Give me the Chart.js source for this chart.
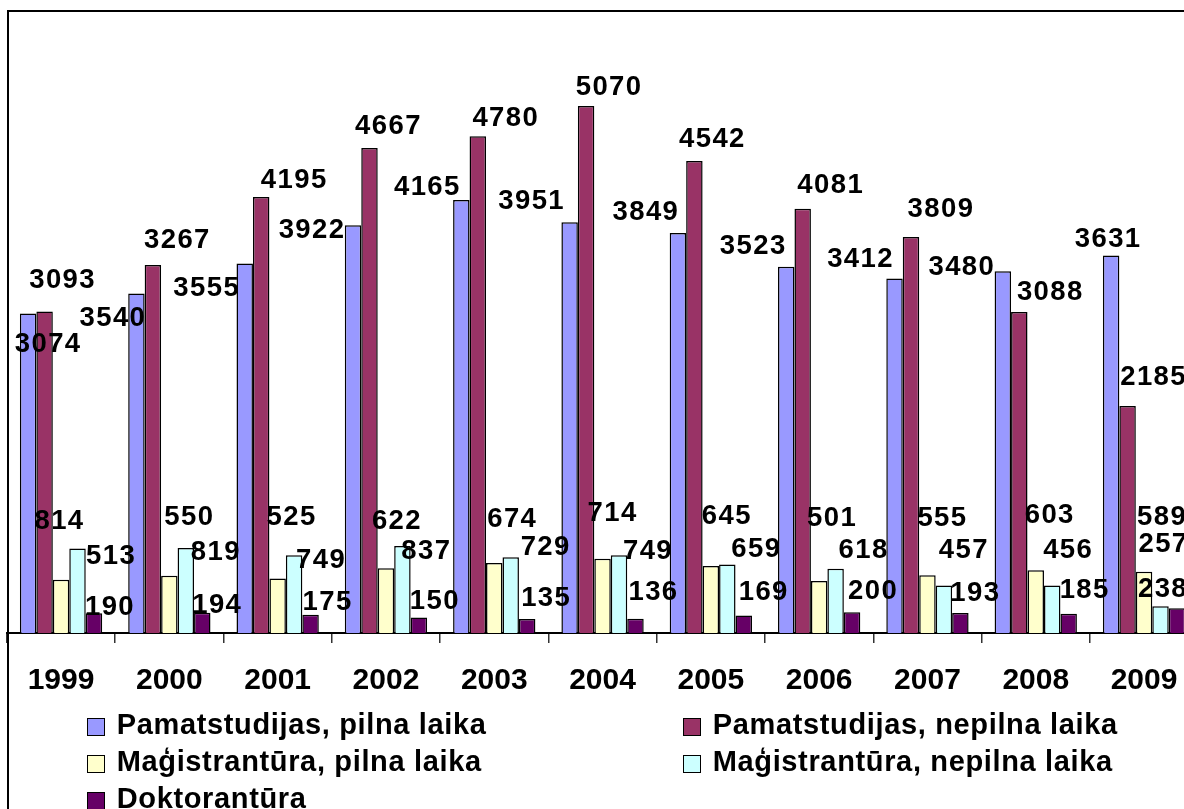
<!DOCTYPE html>
<html>
<head>
<meta charset="utf-8">
<script src="https://cdn.jsdelivr.net/npm/chart.js@4/dist/chart.umd.min.js"></script>
<style>
  html, body { margin: 0; padding: 0; width: 1184px; height: 809px; overflow: hidden; background: #fff; }
  #wrap { position: relative; width: 1184px; height: 809px; overflow: hidden; }
  #c { position: absolute; left: 0; top: 0; }
  #frame { position: absolute; left: 7px; top: 10px; width: 3000px; height: 3000px;
           border-left: 2px solid #000; border-top: 2px solid #000; pointer-events: none; }
  #legend { position: absolute; left: 0; top: 0; width: 1184px; height: 809px; pointer-events: none; }
  .li { position: absolute; height: 37px; white-space: nowrap; }
  .sw { position: absolute; left: 0; top: 10.5px; width: 17.5px; height: 17.5px; box-sizing: border-box; border: 1.5px solid #000; }
  .tx { position: absolute; left: 29.4px; top: 0; line-height: 37px; font: bold 29px 'Liberation Sans', Arial, sans-serif;
        letter-spacing: 0.65px; color: #000; }
</style>
</head>
<body>
<div id="wrap">
  <canvas id="c" width="1210" height="809"></canvas>
  <div id="frame"></div>
  <div id="legend"></div>
</div>
<script>
// ---- data ----
const categories = ['1999','2000','2001','2002','2003','2004','2005','2006','2007','2008','2009'];
const seriesNames = [
  'Pamatstudijas, pilna laika',
  'Pamatstudijas, nepilna laika',
  'Maģistrantūra, pilna laika',
  'Maģistrantūra, nepilna laika',
  'Doktorantūra'
];
const pamatPilna   = [3074, 3267, 3555, 3922, 4165, 3951, 3849, 3523, 3412, 3480, 3631];
const pamatNepilna = [3093, 3540, 4195, 4667, 4780, 5070, 4542, 4081, 3809, 3088, 2185];
const magPilna     = [513, 550, 525, 622, 674, 714, 645, 501, 555, 603, 589];
const magNepilna   = [814, 819, 749, 837, 729, 749, 659, 618, 457, 456, 257];
const doktor       = [190, 194, 175, 150, 135, 136, 169, 200, 193, 185, 238];

// ---- styling / layout (separate from data) ----
const colors = ['#9999FF', '#993366', '#FFFFCC', '#CCFFFF', '#660066'];
// hand-placed data label nudges (px, relative to the bar's top centre), as in the reference
const labelNudge = {
  dx: [
    [20, 41, -38, -41, -34, -38, -32, -33, -34, -41, -3],
    [18, -40, 33, 19, 28, 23, 18, 28, 30, 31, 26],
    [50, 20, 14, 11, 18, 10, 16, 13, 15, 14, 18],
    [-18, 30, 27, 24, 35, 29, 29, 28, 20, 16, 3],
    [16, 15, 17, 16, 19, 18, 20, 21, 15, 16, -14]
  ],
  dy: [
    [31, -53, 25, 5, -13, -21, -21, -20, -19, -4, -16],
    [-31, 53, -17, -22, -18, -19, -22, -23, -28, -20, -28],
    [-23, -58, -61, -47, -44, -45, -50, -63, -57, -55, -54],
    [-27, 5, 5, 5, -10, -4, -15, -18, -35, -35, -62],
    [-6, -7, -12, -16, -21, -26, -23, -21, -20, -23, -19]
  ]
};

const FONT = "'Liberation Sans', Arial, sans-serif";
const seriesValues = [pamatPilna, pamatNepilna, magPilna, magNepilna, doktor];

const datasets = seriesValues.map((vals, i) => ({
  label: seriesNames[i],
  data: vals,
  backgroundColor: colors[i],
  borderColor: '#000',
  borderWidth: 1.5,
  borderSkipped: 'start',
  categoryPercentage: 0.76,
  barPercentage: 1.0
}));

const dataLabels = {
  id: 'dataLabels',
  afterDatasetsDraw(chart) {
    const ctx = chart.ctx;
    ctx.save();
    ctx.font = 'bold 27.5px ' + FONT;
    ctx.fillStyle = '#000';
    ctx.textAlign = 'center';
    ctx.textBaseline = 'middle';
    try { ctx.letterSpacing = '1.4px'; } catch (e) {}
    chart.data.datasets.forEach((ds, di) => {
      const meta = chart.getDatasetMeta(di);
      meta.data.forEach((bar, j) => {
        const dx = labelNudge.dx[di][j], dy = labelNudge.dy[di][j];
        ctx.fillText(String(ds.data[j]), bar.x + dx, bar.y + dy);
      });
    });
    ctx.restore();
  }
};

const chart = new Chart(document.getElementById('c'), {
  type: 'bar',
  data: { labels: categories, datasets },
  options: {
    responsive: false,
    animation: false,
    devicePixelRatio: 1,
    layout: { padding: { left: 6.9, right: 11.8, top: 9.4, bottom: 0 } },
    plugins: { legend: { display: false }, tooltip: { enabled: false } },
    scales: {
      x: {
        offset: true,
        grid: { display: true, drawOnChartArea: false, drawTicks: true, tickLength: 10, color: '#333', lineWidth: 1.5, offset: true },
        border: { display: true, color: '#000', width: 2 },
        ticks: { color: '#000', padding: 20, font: { family: FONT, size: 30, weight: 'bold' }, maxRotation: 0, autoSkip: false },
        afterFit(scale) { scale.height = 176; }
      },
      y: {
        display: false,
        min: 0,
        max: 6000
      }
    }
  },
  plugins: [dataLabels]
});

// HTML legend built from the chart's datasets (2 columns, Excel order)
const legendEl = document.getElementById('legend');
const colLeft = [87.3, 683.3];
const rowTop0 = 707.5, rowStep = 37;
chart.data.datasets.forEach((ds, k) => {
  const item = document.createElement('div');
  item.className = 'li';
  item.style.left = colLeft[k % 2] + 'px';
  item.style.top = (rowTop0 + rowStep * Math.floor(k / 2)) + 'px';
  const sw = document.createElement('span');
  sw.className = 'sw';
  sw.style.background = ds.backgroundColor;
  const tx = document.createElement('span');
  tx.className = 'tx';
  tx.textContent = ds.label;
  item.appendChild(sw);
  item.appendChild(tx);
  legendEl.appendChild(item);
});
</script>
</body>
</html>
